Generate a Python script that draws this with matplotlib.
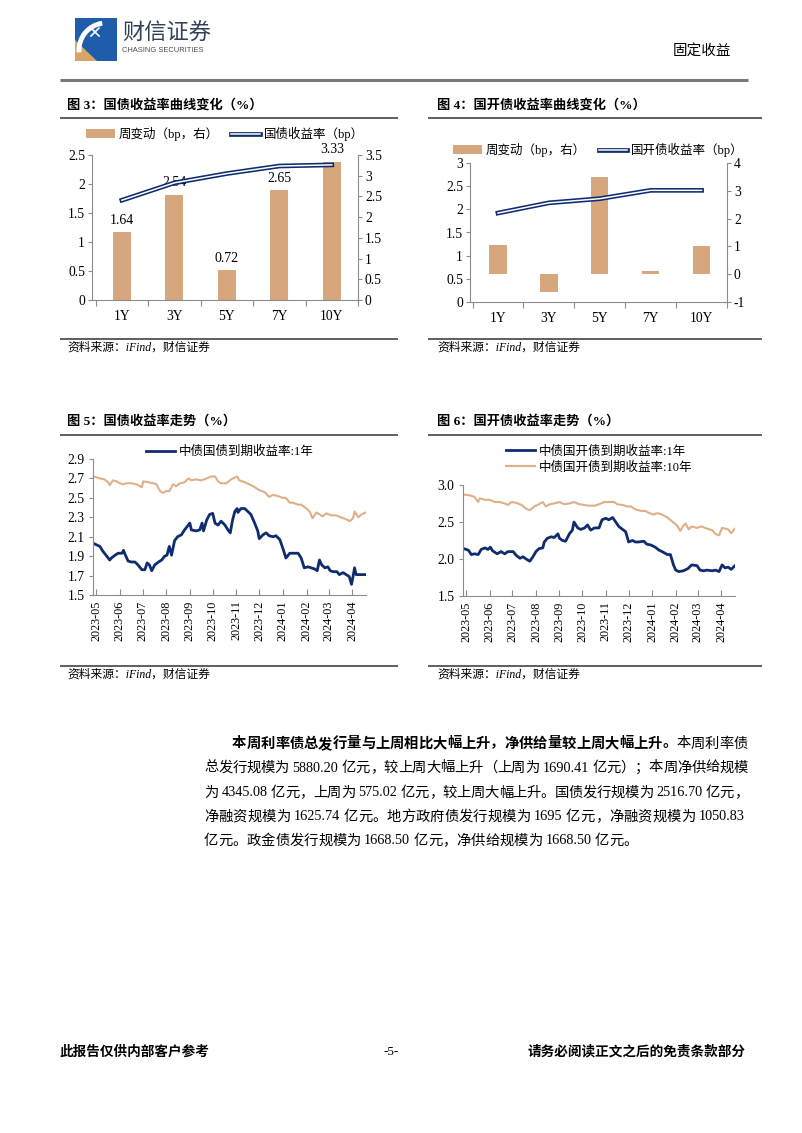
import numpy as np
import pandas as pd
import matplotlib
matplotlib.use('Agg')
import matplotlib.pyplot as plt
import matplotlib.dates as mdates
from matplotlib.lines import Line2D
from matplotlib.patches import Patch, Rectangle, Polygon, Arc
from matplotlib.ticker import FuncFormatter

plt.rcParams['font.family'] = ['Liberation Serif', 'Noto Sans CJK SC']
plt.rcParams['axes.unicode_minus'] = False

W, H = 802, 1133
NAVY = '#0E2C6E'
TAN = '#D6A67D'
TAN_L = '#DFB088'
GRAY = '#8C8C8C'

# ---- 图3 / 图4 数据 ----
tenors = ['1Y', '3Y', '5Y', '7Y', '10Y']
cgb_yield = [1.72, 2.02, 2.18, 2.31, 2.33]
cgb_chg = [1.64, 2.54, 0.72, 2.65, 3.33]
cdb_yield = [1.92, 2.14, 2.23, 2.41, 2.41]
cdb_chg = [1.04, -0.65, 3.49, 0.10, 1.00]

# ---- 图5 数据 ----
cgb1y_dates = ['2023-04-28', '2023-05-06', '2023-05-10', '2023-05-15', '2023-05-19', '2023-05-21',
               '2023-05-26', '2023-05-30', '2023-06-04', '2023-06-06', '2023-06-08', '2023-06-12',
               '2023-06-16', '2023-06-21', '2023-06-25', '2023-06-30', '2023-07-04', '2023-07-07',
               '2023-07-10', '2023-07-13', '2023-07-17', '2023-07-22', '2023-07-26', '2023-07-30',
               '2023-08-02', '2023-08-05', '2023-08-08', '2023-08-12', '2023-08-16', '2023-08-21',
               '2023-08-25', '2023-08-30', '2023-09-01', '2023-09-03', '2023-09-09', '2023-09-14',
               '2023-09-17', '2023-09-19', '2023-09-23', '2023-09-27', '2023-10-01', '2023-10-04',
               '2023-10-08', '2023-10-12', '2023-10-17', '2023-10-21', '2023-10-24', '2023-10-27',
               '2023-10-30', '2023-11-02', '2023-11-03', '2023-11-07', '2023-11-12', '2023-11-16',
               '2023-11-20', '2023-11-25', '2023-11-29', '2023-12-01', '2023-12-06', '2023-12-10',
               '2023-12-14', '2023-12-19', '2023-12-23', '2023-12-28', '2024-01-01', '2024-01-05',
               '2024-01-10', '2024-01-14', '2024-01-21', '2024-01-25', '2024-01-29', '2024-02-03',
               '2024-02-07', '2024-02-11', '2024-02-15', '2024-02-18', '2024-02-21', '2024-02-25',
               '2024-02-29', '2024-03-03', '2024-03-07', '2024-03-12', '2024-03-15', '2024-03-20',
               '2024-03-24', '2024-03-28', '2024-03-31', '2024-04-02', '2024-04-04', '2024-04-06',
               '2024-04-10', '2024-04-19']
cgb1y_vals = [2.03, 2.00, 1.95, 1.90, 1.86, 1.88, 1.91, 1.93, 1.93, 1.96, 1.92, 1.85,
              1.84, 1.84, 1.81, 1.76, 1.76, 1.83, 1.81, 1.75, 1.81, 1.84, 1.86, 1.90,
              1.91, 2.00, 1.91, 2.06, 2.10, 2.12, 2.17, 2.22, 2.24, 2.17, 2.16, 2.17,
              2.24, 2.16, 2.27, 2.33, 2.34, 2.24, 2.22, 2.26, 2.22, 2.17, 2.14, 2.27,
              2.36, 2.39, 2.35, 2.39, 2.39, 2.36, 2.33, 2.24, 2.16, 2.08, 2.12, 2.14,
              2.11, 2.10, 2.11, 2.07, 1.98, 1.88, 1.93, 1.93, 1.93, 1.88, 1.78, 1.79,
              1.78, 1.77, 1.75, 1.86, 1.81, 1.78, 1.79, 1.75, 1.74, 1.74, 1.71, 1.73,
              1.71, 1.69, 1.61, 1.69, 1.78, 1.71, 1.71, 1.71]

cgb10y_dates = ['2023-04-28', '2023-05-06', '2023-05-12', '2023-05-17', '2023-05-19', '2023-05-23',
                '2023-05-28', '2023-06-01', '2023-06-06', '2023-06-10', '2023-06-16', '2023-06-23',
                '2023-06-30', '2023-07-02', '2023-07-09', '2023-07-15', '2023-07-19', '2023-07-24',
                '2023-07-28', '2023-08-01', '2023-08-05', '2023-08-10', '2023-08-14', '2023-08-19',
                '2023-08-25', '2023-08-30', '2023-09-03', '2023-09-09', '2023-09-16', '2023-09-23',
                '2023-09-29', '2023-10-04', '2023-10-08', '2023-10-12', '2023-10-19', '2023-10-25',
                '2023-11-02', '2023-11-05', '2023-11-12', '2023-11-18', '2023-11-25', '2023-12-01',
                '2023-12-08', '2023-12-14', '2023-12-19', '2023-12-25', '2024-01-01', '2024-01-05',
                '2024-01-10', '2024-01-14', '2024-01-21', '2024-01-25', '2024-02-01', '2024-02-05',
                '2024-02-09', '2024-02-14', '2024-02-18', '2024-02-22', '2024-02-27', '2024-03-04',
                '2024-03-11', '2024-03-17', '2024-03-24', '2024-03-29', '2024-04-02', '2024-04-04',
                '2024-04-09', '2024-04-13', '2024-04-19']
cgb10y_vals = [2.72, 2.70, 2.69, 2.66, 2.63, 2.68, 2.67, 2.65, 2.64, 2.65, 2.65, 2.64,
               2.61, 2.67, 2.66, 2.65, 2.64, 2.57, 2.55, 2.57, 2.57, 2.64, 2.62, 2.65,
               2.66, 2.70, 2.68, 2.69, 2.68, 2.70, 2.72, 2.72, 2.67, 2.65, 2.65, 2.69,
               2.72, 2.68, 2.66, 2.64, 2.61, 2.58, 2.56, 2.51, 2.53, 2.52, 2.50, 2.50,
               2.45, 2.45, 2.43, 2.43, 2.39, 2.36, 2.29, 2.35, 2.33, 2.31, 2.34, 2.32,
               2.32, 2.30, 2.28, 2.26, 2.29, 2.36, 2.30, 2.33, 2.35]

# ---- 图6 数据 ----
cdb1y_dates = ['2023-04-28', '2023-05-04', '2023-05-08', '2023-05-12', '2023-05-17', '2023-05-21',
               '2023-05-26', '2023-05-30', '2023-06-02', '2023-06-05', '2023-06-11', '2023-06-16',
               '2023-06-21', '2023-06-25', '2023-07-02', '2023-07-06', '2023-07-11', '2023-07-15',
               '2023-07-19', '2023-07-24', '2023-07-28', '2023-08-01', '2023-08-05', '2023-08-10',
               '2023-08-12', '2023-08-16', '2023-08-21', '2023-08-25', '2023-08-30', '2023-09-01',
               '2023-09-05', '2023-09-09', '2023-09-14', '2023-09-18', '2023-09-20', '2023-09-25',
               '2023-09-29', '2023-10-04', '2023-10-08', '2023-10-12', '2023-10-17', '2023-10-23',
               '2023-10-27', '2023-11-01', '2023-11-05', '2023-11-10', '2023-11-14', '2023-11-18',
               '2023-11-23', '2023-11-27', '2023-12-01', '2023-12-06', '2023-12-10', '2023-12-14',
               '2023-12-21', '2023-12-25', '2023-12-30', '2024-01-05', '2024-01-10', '2024-01-14',
               '2024-01-21', '2024-01-25', '2024-01-29', '2024-02-01', '2024-02-05', '2024-02-11',
               '2024-02-17', '2024-02-22', '2024-02-29', '2024-03-04', '2024-03-09', '2024-03-13',
               '2024-03-20', '2024-03-24', '2024-03-29', '2024-04-02', '2024-04-06', '2024-04-10',
               '2024-04-14', '2024-04-19']
cdb1y_vals = [2.14, 2.12, 2.06, 2.07, 2.06, 2.13, 2.15, 2.13, 2.16, 2.11, 2.07, 2.10,
              2.07, 2.10, 2.10, 2.05, 2.01, 2.03, 2.00, 1.97, 2.03, 2.10, 2.14, 2.15,
              2.23, 2.28, 2.30, 2.29, 2.34, 2.28, 2.25, 2.24, 2.34, 2.39, 2.50, 2.42,
              2.40, 2.42, 2.46, 2.39, 2.42, 2.42, 2.53, 2.55, 2.53, 2.56, 2.50, 2.44,
              2.40, 2.37, 2.23, 2.25, 2.23, 2.23, 2.24, 2.20, 2.19, 2.16, 2.12, 2.10,
              2.06, 2.06, 1.92, 1.85, 1.83, 1.84, 1.87, 1.92, 1.91, 1.85, 1.84, 1.85,
              1.84, 1.85, 1.83, 1.92, 1.88, 1.89, 1.86, 1.91]

cdb10y_dates = ['2023-04-28', '2023-05-06', '2023-05-12', '2023-05-17', '2023-05-19', '2023-05-26',
                '2023-06-01', '2023-06-08', '2023-06-14', '2023-06-21', '2023-06-25', '2023-06-30',
                '2023-07-06', '2023-07-13', '2023-07-19', '2023-07-24', '2023-07-30', '2023-08-03',
                '2023-08-10', '2023-08-14', '2023-08-19', '2023-08-25', '2023-09-01', '2023-09-07',
                '2023-09-14', '2023-09-20', '2023-09-27', '2023-10-04', '2023-10-10', '2023-10-17',
                '2023-10-23', '2023-10-30', '2023-11-05', '2023-11-12', '2023-11-16', '2023-11-23',
                '2023-11-29', '2023-12-04', '2023-12-10', '2023-12-17', '2023-12-23', '2023-12-28',
                '2024-01-03', '2024-01-08', '2024-01-14', '2024-01-21', '2024-01-27', '2024-02-03',
                '2024-02-07', '2024-02-11', '2024-02-14', '2024-02-18', '2024-02-22', '2024-02-29',
                '2024-03-06', '2024-03-13', '2024-03-20', '2024-03-24', '2024-03-29', '2024-04-02',
                '2024-04-06', '2024-04-10', '2024-04-14', '2024-04-19']
cdb10y_vals = [2.87, 2.86, 2.84, 2.77, 2.82, 2.80, 2.80, 2.77, 2.77, 2.75, 2.73, 2.77,
               2.76, 2.73, 2.68, 2.66, 2.71, 2.73, 2.77, 2.71, 2.74, 2.75, 2.77, 2.74,
               2.75, 2.77, 2.74, 2.73, 2.72, 2.72, 2.74, 2.77, 2.77, 2.77, 2.74, 2.73,
               2.71, 2.71, 2.67, 2.65, 2.65, 2.62, 2.60, 2.62, 2.60, 2.56, 2.51, 2.45,
               2.38, 2.45, 2.48, 2.40, 2.44, 2.42, 2.44, 2.41, 2.39, 2.34, 2.32, 2.42,
               2.41, 2.40, 2.35, 2.41]

# ---- 正文 ----
body_lines = [
    ([('本周利率债总发行量与上周相比大幅上升，净供给量较上周大幅上升。', 'bold'), ('本周利率债', 'normal')], 232, 748),
    ([('总发行规模为 5880.20 亿元，较上周大幅上升（上周为 1690.41 亿元）；本周净供给规模', 'normal')], 204, 748),
    ([('为 4345.08 亿元，上周为 575.02 亿元，较上周大幅上升。国债发行规模为 2516.70 亿元，', 'normal')], 204, 748),
    ([('净融资规模为 1625.74 亿元。地方政府债发行规模为 1695 亿元，净融资规模为 1050.83', 'normal')], 204, 748),
    ([('亿元。政金债发行规模为 1668.50 亿元，净供给规模为 1668.50 亿元。', 'normal')], 204, None),
]


def rect(x0, y0, x1, y1):
    return [x0 / W, 1 - y1 / H, (x1 - x0) / W, (y1 - y0) / H]


fig = plt.figure(figsize=(W / 100, H / 100), dpi=100)
page = fig.add_axes([0, 0, 1, 1])
page.set_xlim(0, W)
page.set_ylim(H, 0)
page.axis('off')

# 页眉
page.add_patch(Rectangle((75, 18), 42, 43, facecolor='#1E5DAA', edgecolor='none'))
page.add_patch(Polygon([(75, 40), (75, 61), (97, 61)], facecolor='#D9A46C', edgecolor='none'))
page.add_patch(Arc((106, 50), 54, 54, theta1=175, theta2=262, color='white', lw=3.5))
page.plot([91, 99], [28, 36], color='white', lw=1.2)
page.plot([91, 99], [36, 28], color='white', lw=1.2)
page.text(122, 33, '财信证券', fontsize=16, family='Noto Sans CJK SC', color='#33405a', va='center')
page.text(122, 50.5, 'CHASING SECURITIES', fontsize=5.4, family='Liberation Sans', color='#4a4a4a', va='center')
page.text(731, 52, '固定收益', fontsize=10.5, ha='right', va='center')
page.plot([60, 748], [80, 80], color='#7a7a7a', lw=2.2, solid_capstyle='butt')

# 标题 / 分隔线 / 资料来源
titles = [(67, 105, '图 3：国债收益率曲线变化（%）'), (437, 105, '图 4：国开债收益率曲线变化（%）'),
          (67, 421, '图 5：国债收益率走势（%）'), (437, 421, '图 6：国开债收益率走势（%）')]
for x, y, t in titles:
    page.text(x, y, t, fontsize=9.5, weight='bold', va='center')
for y in (118, 435):
    page.plot([60, 398], [y, y], color='#333333', lw=1.1, solid_capstyle='butt')
    page.plot([428, 762], [y, y], color='#333333', lw=1.1, solid_capstyle='butt')
for y in (339, 666):
    page.plot([60, 398], [y, y], color='#333333', lw=1.1, solid_capstyle='butt')
    page.plot([428, 762], [y, y], color='#333333', lw=1.1, solid_capstyle='butt')
    page.text(67, y + 9, '资料来源：iFind，财信证券', fontsize=8.5, style='italic', va='center')
    page.text(437, y + 9, '资料来源：iFind，财信证券', fontsize=8.5, style='italic', va='center')

fmt_g = FuncFormatter(lambda v, p: f'{v:g}')


def bar_line_chart(box, chg, yld, ylim_l, step_l, ylim_r, step_r, xlim, yname, leg_y, labels=False):
    ax = fig.add_axes(rect(*box))
    axr = ax.twinx()
    x = np.arange(len(tenors))
    axr.bar(x, chg, width=0.34, color=TAN)
    ax.plot(x, yld, color=NAVY, lw=3.4)
    ax.plot(x, yld, color='white', lw=1.1)
    ax.set_zorder(axr.get_zorder() + 1)
    ax.patch.set_visible(False)
    ax.set_xlim(*xlim)
    ax.set_ylim(*ylim_l)
    ax.set_yticks(np.arange(ylim_l[0], ylim_l[1] + 1e-9, step_l))
    axr.set_ylim(*ylim_r)
    axr.set_yticks(np.arange(ylim_r[0], ylim_r[1] + 1e-9, step_r))
    ax.yaxis.set_major_formatter(fmt_g)
    axr.yaxis.set_major_formatter(fmt_g)
    ax.set_xticks(x)
    ax.set_xticklabels(tenors)
    ax.set_xticks(np.arange(-0.5, len(tenors), 1), minor=True)
    for a in (ax, axr):
        a.spines['top'].set_visible(False)
        for s in a.spines.values():
            s.set_color(GRAY)
            s.set_linewidth(0.8)
        a.tick_params(axis='y', direction='out', length=3, width=0.8, color=GRAY, labelsize=9.8, pad=2)
    ax.spines['right'].set_visible(False)
    axr.spines['left'].set_visible(False)
    axr.spines['bottom'].set_visible(False)
    ax.tick_params(axis='x', which='major', length=0, labelsize=9.8, pad=7)
    ax.tick_params(axis='x', which='minor', direction='out', length=4, width=0.8, color=GRAY)
    if labels:
        for i, v in enumerate(chg):
            axr.annotate(f'{v:.2f}', (i, v), xytext=(0, 4), textcoords='offset points',
                         ha='center', va='bottom', fontsize=10)
    handles = [Patch(facecolor=TAN, edgecolor='none'),
               (Line2D([], [], color=NAVY, lw=3.4), Line2D([], [], color='white', lw=1.1))]
    ax.legend(handles, ['周变动（bp，右）', yname], loc='center', bbox_to_anchor=(0.5, leg_y),
              ncol=2, frameon=False, fontsize=9, handlelength=2.3, handletextpad=0.3,
              columnspacing=1.0, borderaxespad=0, borderpad=0)
    return ax


bar_line_chart((92, 155, 358, 300), cgb_chg, cgb_yield, (0, 2.5), 0.5, (0, 3.5), 0.5,
               (-0.57, 4.47), '国债收益率（bp）', 1.145, labels=True)
bar_line_chart((470, 163, 727, 302), cdb_chg, cdb_yield, (0, 3), 0.5, (-1, 4), 1,
               (-0.55, 4.49), '国开债收益率（bp）', 1.094)


def ts_chart(box, ylim, step, series, names, leg_y):
    ax = fig.add_axes(rect(*box))
    lines = []
    for dates, vals, color, lw in series:
        ln, = ax.plot(pd.to_datetime(dates), vals, color=color, lw=lw)
        lines.append(ln)
    ax.set_ylim(*ylim)
    ax.set_yticks(np.arange(ylim[0], ylim[1] + 1e-9, step))
    ax.yaxis.set_major_formatter(FuncFormatter(lambda v, p: f'{v:.1f}'))
    ax.set_xlim(pd.Timestamp('2023-04-27'), pd.Timestamp('2024-04-19'))
    ax.xaxis.set_major_locator(mdates.MonthLocator())
    ax.xaxis.set_major_formatter(mdates.DateFormatter('%Y-%m'))
    for s in ('top', 'right'):
        ax.spines[s].set_visible(False)
    for s in ('left', 'bottom'):
        ax.spines[s].set_color(GRAY)
        ax.spines[s].set_linewidth(0.8)
    ax.tick_params(axis='y', direction='out', length=3, width=0.8, color=GRAY, labelsize=9.8, pad=3)
    ax.tick_params(axis='x', direction='in', length=4, width=0.8, color=GRAY, labelsize=8.7,
                   labelrotation=90, pad=4)
    ax.legend([lines[i] for i in range(len(names))], names, loc='center', bbox_to_anchor=(0.5, leg_y),
              frameon=False, fontsize=9, handlelength=2.3, handletextpad=0.3, labelspacing=0.3,
              borderaxespad=0, borderpad=0)
    return ax


ts_chart((93, 459, 366, 595), (1.5, 2.9), 0.2,
         [(cgb1y_dates, cgb1y_vals, NAVY, 2.0), (cgb10y_dates, cgb10y_vals, TAN_L, 1.5)],
         ['中债国债到期收益率:1年'], 1.05)
ts_chart((463, 485, 735, 596), (1.5, 3.0), 0.5,
         [(cdb1y_dates, cdb1y_vals, NAVY, 2.0), (cdb10y_dates, cdb10y_vals, TAN_L, 1.5)],
         ['中债国开债到期收益率:1年', '中债国开债到期收益率:10年'], 1.23)


# 正文（两端对齐）
def tokens_of(s):
    out, run = [], ''
    for ch in s:
        if ch.isascii():
            if ch != ' ':
                run += ch
            elif run:
                out.append(run)
                run = ''
        else:
            if run:
                out.append(run)
                run = ''
            out.append(ch)
    if run:
        out.append(run)
    return out


renderer = fig.canvas.get_renderer()
body_y = [744, 768, 793, 817, 841]
for (parts, x0, x1), y in zip(body_lines, body_y):
    items = []
    for txt, wt in parts:
        for tok in tokens_of(txt):
            t = page.text(0, y, tok, fontsize=10.3, weight=wt, va='center', ha='left')
            w = t.get_window_extent(renderer).width
            pad = 3.5 if tok.isascii() else 0
            items.append((t, w, pad))
    total = sum(w + 2 * p for _, w, p in items)
    gap = 0 if x1 is None else (x1 - x0 - total) / (len(items) - 1)
    xc = x0
    for t, w, p in items:
        t.set_x(xc + p)
        xc += w + 2 * p + gap

# 页脚
page.text(60, 1052, '此报告仅供内部客户参考', fontsize=9.8, weight='bold', va='center')
page.text(391, 1052, '-5-', fontsize=9.5, ha='center', va='center')
page.text(746, 1052, '请务必阅读正文之后的免责条款部分', fontsize=9.8, weight='bold', ha='right', va='center')

fig.savefig('out.png', dpi=100)
